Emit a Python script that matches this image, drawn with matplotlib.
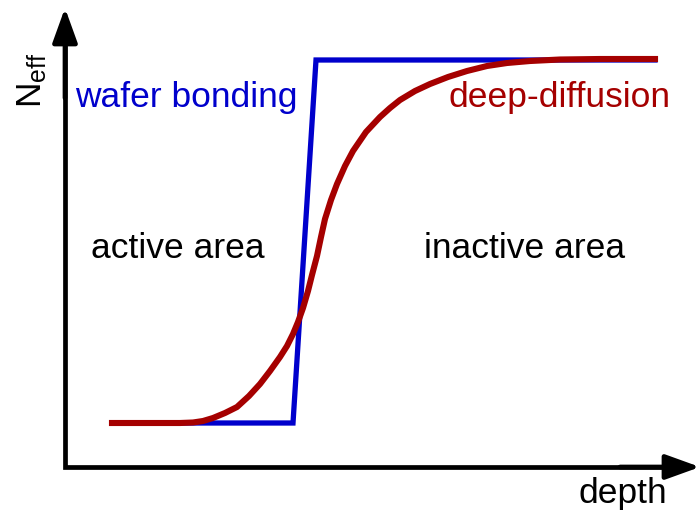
import matplotlib
matplotlib.use("Agg")
import matplotlib.pyplot as plt

# schematic doping profiles, depth vs N_eff (arbitrary units)
bond_depth = [112, 293, 316, 655]
bond_neff = [95, 95, 458, 458]

diff_depth = [112, 150, 180, 193, 203, 213, 225, 237, 249, 260, 270, 280, 287,
              293, 298, 303, 308, 312, 317, 321, 325, 331, 337, 345, 353, 366,
              380, 390, 400, 415, 430, 448, 467, 487, 507, 530, 560, 600, 655]
diff_neff = [95, 95, 95, 95.5, 97, 100, 105, 111, 122, 134, 147, 161, 172,
             184, 196, 210, 227, 243, 262, 281, 299, 318, 334, 352, 367, 386,
             401, 410, 418, 427, 434, 441, 447, 452, 455, 457, 458.5, 459, 459]

BLUE = "#0000cc"
RED = "#a50000"
FONT = "Liberation Sans"

plt.rcParams["font.family"] = [FONT, "DejaVu Sans"]
plt.rcParams["mathtext.fontset"] = "custom"
plt.rcParams["mathtext.rm"] = FONT
plt.rcParams["mathtext.it"] = FONT + ":italic"

fig = plt.figure(figsize=(7.0, 5.18), dpi=100)
ax = fig.add_axes([0, 0, 1, 1])
ax.set_xlim(0, 700)
ax.set_ylim(0, 518)
ax.axis("off")

# axes with arrows
ox, oy = 65, 51
ax.plot([ox, ox, 680], [490, oy, oy], color="black", lw=3.4,
        solid_joinstyle="miter", solid_capstyle="butt")
arrow = dict(arrowstyle="-|>,head_length=1.55,head_width=0.56", lw=3.4,
             color="black", mutation_scale=13.5, shrinkA=0, shrinkB=0)
ax.annotate("", xy=(ox, 510), xytext=(ox, 420), arrowprops=arrow)
ax.annotate("", xy=(700, oy), xytext=(620, oy), arrowprops=arrow)

ax.plot(bond_depth, bond_neff, color=BLUE, lw=3.8, solid_joinstyle="miter")
ax.plot(diff_depth, diff_neff, color=RED, lw=4.4, solid_joinstyle="round")

fs = 25.5
ax.text(75, 421, "wafer bonding", color=BLUE, fontsize=fs, ha="left", va="center")
ax.text(670, 421, "deep-diffusion", color=RED, fontsize=fs, ha="right", va="center")
ax.text(178, 270, "active area", fontsize=fs, ha="center", va="center")
ax.text(525, 270, "inactive area", fontsize=fs, ha="center", va="center")
ax.text(623, 25, "depth", fontsize=fs, ha="center", va="center")
ax.text(32, 438, r"N$_\mathregular{eff}$", fontsize=fs, rotation=90,
        ha="center", va="center")

fig.savefig("out.png", dpi=100)
